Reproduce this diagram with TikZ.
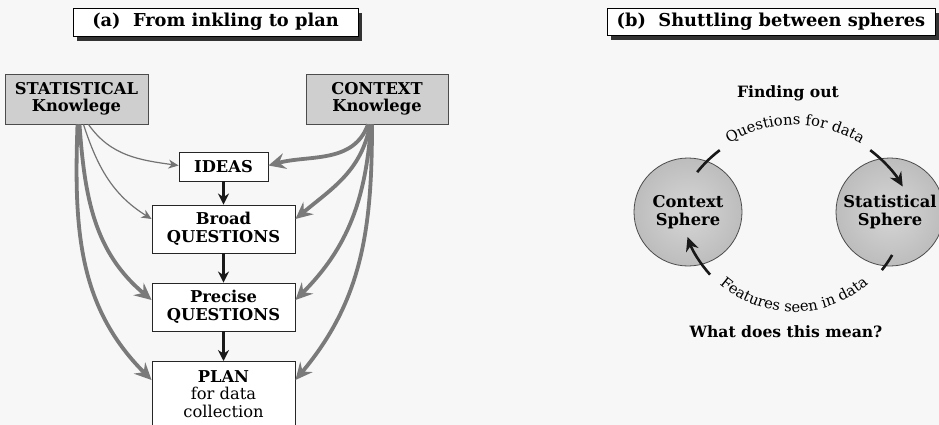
\documentclass[tikz,border=0pt]{standalone}
\usepackage{fontspec}
\setmainfont{DejaVu Serif}
\usetikzlibrary{arrows.meta,shadows,decorations.text}
\begin{document}
\begin{tikzpicture}[x=1pt,y=1pt,
  box/.style={draw=black!85, line width=0.9pt, fill=white, inner sep=0pt,
    align=center, font=\bfseries\fontsize{16.3}{17.5}\selectfont},
  know/.style={box, fill=gray!38, draw=black!70},
  titlebox/.style={draw=black, line width=0.9pt, fill=white, inner sep=0pt,
    font=\bfseries\fontsize{17.8}{19}\selectfont,
    drop shadow={shadow xshift=4pt, shadow yshift=-5pt, fill=black!80, opacity=1}},
  sphere/.style={circle, draw=black!70, line width=0.8pt, inner sep=0pt,
    minimum size=108pt, inner color=gray!32, outer color=gray!52, align=center,
    font=\bfseries\fontsize{16.3}{17.5}\selectfont},
  thinarrow/.style={draw=black!55, line width=1.2pt,
    -{Stealth[length=10pt, width=9pt, inset=3pt]}},
  thickarrow/.style={draw=black!52, line width=3.8pt,
    -{Stealth[length=17pt, width=16pt, inset=6pt]}},
  flow/.style={draw=black!90, line width=2.2pt,
    -{Stealth[length=11pt, width=11pt]}},
  arcline/.style={draw=black!90, line width=2.6pt},
  caption/.style={font=\bfseries\fontsize{15.6}{17}\selectfont}
]
\useasboundingbox[fill=black!3] (0,0) rectangle (939,-425);
\clip (0,0) rectangle (939,-425);

% ---------- (a) From inkling to plan ----------
\node[titlebox, minimum width=285pt, minimum height=28pt] (ta) at (215.5,-22) {(a)\ \ From inkling to plan};

\node[know, minimum width=143pt, minimum height=50pt] (stat) at (76.5,-99) {STATISTICAL\\Knowlege};
\node[know, minimum width=142pt, minimum height=50pt] (ctx) at (377,-99) {CONTEXT\\Knowlege};

\node[box, minimum width=89pt, minimum height=29pt] (ideas) at (223.5,-166.5) {IDEAS};
\node[box, minimum width=143pt, minimum height=48pt] (broad) at (223.5,-229) {Broad\\QUESTIONS};
\node[box, minimum width=143pt, minimum height=48pt] (precise) at (223.5,-307) {Precise\\QUESTIONS};
\node[box, anchor=north, minimum width=143pt, minimum height=90pt] (plan) at (223.5,-361) {};
\node[anchor=north, align=center, inner sep=0pt, font=\fontsize{16.3}{17.5}\selectfont]
  (plantext) at ([yshift=-9pt]plan.north) {\bfseries PLAN\\for data\\collection};

\draw[flow] (ideas) -- (broad);
\draw[flow] (broad) -- (precise);
\draw[flow] (precise) -- (plan);

% statistical knowledge feeds every stage
\draw[thinarrow] ([xshift=12pt]stat.south) to[out=-55, in=172] ([yshift=1pt]ideas.west);
\draw[thinarrow] ([xshift=7pt]stat.south) to[out=-72, in=148] ([yshift=10pt]broad.west);
\draw[thickarrow] ([xshift=3pt]stat.south) to[out=-86, in=140] ([yshift=7pt]precise.west);
\draw[thickarrow] ([xshift=1pt]stat.south) to[out=-92, in=135] ([yshift=-19pt]plan.north west);

% context knowledge feeds every stage
\draw[thickarrow] ([xshift=-9pt]ctx.south) to[out=-110, in=15] ([yshift=1pt]ideas.east);
\draw[thickarrow] ([xshift=-7pt]ctx.south) to[out=-100, in=40] ([yshift=10pt]broad.east);
\draw[thickarrow] ([xshift=-6pt]ctx.south) to[out=-94, in=45] ([yshift=7pt]precise.east);
\draw[thickarrow] ([xshift=-5pt]ctx.south) to[out=-90, in=50] ([yshift=-19pt]plan.north east);

% ---------- (b) Shuttling between spheres ----------
\node[titlebox, minimum width=328pt, minimum height=27pt] (tb) at (771,-21.5) {(b)\ \ Shuttling between spheres};

\node[caption] (find) at (788,-93) {Finding out};
\node[caption] (mean) at (786,-332) {What does this mean?};

\node[sphere] (cs) at (688,-212) {Context\\Sphere};
\node[sphere] (ss) at (890,-212) {Statistical\\Sphere};

% arc from the context sphere to the statistical sphere
\coordinate (cq) at (795,-250);
\draw[arcline] ([shift={(141.5:125)}]cq) arc[start angle=141.5, end angle=127, radius=125];
\draw[arcline, -{Stealth[length=14pt, width=13pt]}] ([shift={(53:125)}]cq) arc[start angle=53, end angle=30.5, radius=125];
\path[decorate, decoration={text along path, text align=center,
    text={|\fontsize{14.8}{15}\selectfont|Questions for data}}]
  ([shift={(150:125)}]cq) arc[start angle=150, end angle=30, radius=125];

% arc from the statistical sphere back to the context sphere
\coordinate (cf) at (794,-199);
\draw[arcline] ([shift={(-29.7:113)}]cf) arc[start angle=-29.7, end angle=-39, radius=113];
\draw[arcline, -{Stealth[length=14pt, width=13pt]}] ([shift={(-138:113)}]cf) arc[start angle=-138, end angle=-160.4, radius=113];
\path[decorate, decoration={text along path, text align=center,
    text={|\fontsize{14.8}{15}\selectfont|Features seen in data}}]
  ([shift={(-150:113)}]cf) arc[start angle=-150, end angle=-30, radius=113];
\end{tikzpicture}
\end{document}
